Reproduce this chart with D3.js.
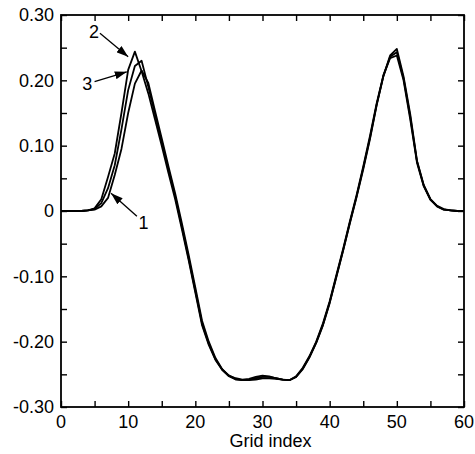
<!DOCTYPE html>
<html lang="en">
  <head>
    <meta charset="UTF-8" />
    <script src="https://d3js.org/d3.v7.min.js"></script>
    <title>Grid index profiles</title>
    <style>
      body { margin: 0; background: #fff; }
      svg text { font-family: "Liberation Sans", Arial, sans-serif; fill: #000; }
      .curve { fill: none; stroke: #000; stroke-width: 1.8; stroke-linejoin: round; }
    </style>
  </head>
  <body>
    <svg width="475" height="454"></svg>
    <script>
      // values, one per grid index 0..60
      const gridIndex = d3.range(0, 61);
      const curve1 = [0, 0, 0, 0, 0.001, 0.002, 0.007, 0.02, 0.055, 0.095, 0.15, 0.195, 0.215, 0.196, 0.153, 0.111, 0.068, 0.027,
        -0.019, -0.067, -0.117, -0.168, -0.2, -0.225, -0.242, -0.252, -0.257, -0.259, -0.259, -0.258, -0.256, -0.256, -0.257,
        -0.258, -0.259, -0.254, -0.242, -0.224, -0.202, -0.175, -0.141, -0.101, -0.061, -0.019, 0.021, 0.064, 0.11, 0.162,
        0.207, 0.238, 0.248, 0.206, 0.148, 0.077, 0.04, 0.018, 0.008, 0.003, 0.001, 0, 0];
      const curve2 = [0, 0, 0, 0, 0.001, 0.004, 0.018, 0.052, 0.088, 0.15, 0.216, 0.244, 0.214, 0.18, 0.14, 0.1, 0.058, 0.018,
        -0.028, -0.075, -0.125, -0.175, -0.205, -0.228, -0.243, -0.252, -0.256, -0.258, -0.257, -0.254, -0.252, -0.253, -0.256,
        -0.258, -0.259, -0.253, -0.24, -0.222, -0.2, -0.172, -0.138, -0.098, -0.058, -0.016, 0.024, 0.068, 0.115, 0.165,
        0.208, 0.234, 0.238, 0.2, 0.14, 0.074, 0.038, 0.017, 0.007, 0.002, 0.001, 0, 0];
      const curve3 = [0, 0, 0, 0, 0.001, 0.003, 0.012, 0.035, 0.07, 0.125, 0.185, 0.222, 0.23, 0.19, 0.148, 0.106, 0.063, 0.022,
        -0.024, -0.072, -0.122, -0.172, -0.203, -0.227, -0.243, -0.253, -0.258, -0.259, -0.258, -0.256, -0.254, -0.254, -0.256,
        -0.258, -0.259, -0.254, -0.241, -0.223, -0.201, -0.174, -0.14, -0.1, -0.06, -0.018, 0.022, 0.066, 0.112, 0.163,
        0.206, 0.236, 0.243, 0.203, 0.144, 0.076, 0.039, 0.018, 0.007, 0.002, 0.001, 0, 0];
      const seriesList = [curve1, curve2, curve3];

      const xTicks = [0, 10, 20, 30, 40, 50, 60];
      const yTicks = [0.3, 0.2, 0.1, 0, -0.1, -0.2, -0.3];
      const yTickLabels = ["0.30", "0.20", "0.10", "0", "-0.10", "-0.20", "-0.30"];

      // curve labels: label point, arrow start, arrow tip (data units)
      const notes = [
        { text: "2", at: [4.9, 0.274], from: [5.8, 0.272], to: [10.0, 0.236] },
        { text: "3", at: [3.9, 0.195], from: [5.0, 0.198], to: [9.8, 0.213] },
        { text: "1", at: [12.3, -0.017], from: [11.3, -0.008], to: [7.45, 0.027] },
      ];

      const width = 475, height = 454;
      const margin = { top: 15, right: 11, bottom: 47, left: 61 };

      const x = d3.scaleLinear().domain([0, 60]).range([margin.left, width - margin.right]);
      const y = d3.scaleLinear().domain([-0.3, 0.3]).range([height - margin.bottom, margin.top]);

      const svg = d3.select("svg");

      svg.append("defs").append("marker")
        .attr("id", "head")
        .attr("markerUnits", "userSpaceOnUse")
        .attr("viewBox", "0 0 12 8")
        .attr("refX", 12).attr("refY", 4)
        .attr("markerWidth", 12).attr("markerHeight", 8)
        .attr("orient", "auto")
        .append("path").attr("d", "M0,0 L12,4 L0,8 Z").attr("fill", "#000");

      // inward ticks on all four sides
      const minorX = d3.range(0, 61, 5);
      const minorY = d3.range(-0.3, 0.3001, 0.05);
      const tickLen = 6;

      const axisB = d3.axisTop(x).tickValues(minorX).tickSize(tickLen).tickFormat("");
      const axisT = d3.axisBottom(x).tickValues(minorX).tickSize(tickLen).tickFormat("");
      const axisL = d3.axisRight(y).tickValues(minorY).tickSize(tickLen).tickFormat("");
      const axisR = d3.axisLeft(y).tickValues(minorY).tickSize(tickLen).tickFormat("");

      const gB = svg.append("g").attr("transform", `translate(0,${height - margin.bottom})`).call(axisB);
      const gT = svg.append("g").attr("transform", `translate(0,${margin.top})`).call(axisT);
      const gL = svg.append("g").attr("transform", `translate(${margin.left},0)`).call(axisL);
      const gR = svg.append("g").attr("transform", `translate(${width - margin.right},0)`).call(axisR);
      [gB, gT, gL, gR].forEach(g => {
        g.select(".domain").remove();
        g.selectAll("line").attr("stroke", "#000").attr("stroke-width", 1.4);
      });

      svg.append("rect")
        .attr("x", margin.left).attr("y", margin.top)
        .attr("width", width - margin.left - margin.right)
        .attr("height", height - margin.top - margin.bottom)
        .attr("fill", "none").attr("stroke", "#000").attr("stroke-width", 1.8);

      // tick labels
      svg.append("g").selectAll("text").data(xTicks).join("text")
        .attr("x", d => x(d)).attr("y", height - margin.bottom + 21)
        .attr("text-anchor", "middle").attr("font-size", 18)
        .text(d => d);

      svg.append("g").selectAll("text").data(yTicks).join("text")
        .attr("x", margin.left - 7).attr("y", d => y(d)).attr("dy", "0.36em")
        .attr("text-anchor", "end").attr("font-size", 18)
        .text((d, i) => yTickLabels[i]);

      svg.append("text")
        .attr("x", (margin.left + width - margin.right) / 2 + 8).attr("y", height - 7)
        .attr("text-anchor", "middle").attr("font-size", 18)
        .text("Grid index");

      // curves
      const line = d3.line().x((d, i) => x(gridIndex[i])).y(d => y(d));
      svg.append("g").selectAll("path").data(seriesList).join("path")
        .attr("class", "curve").attr("d", line);

      // curve labels with arrows
      const g = svg.append("g");
      g.selectAll("line").data(notes).join("line")
        .attr("x1", d => x(d.from[0])).attr("y1", d => y(d.from[1]))
        .attr("x2", d => x(d.to[0])).attr("y2", d => y(d.to[1]))
        .attr("stroke", "#000").attr("stroke-width", 1.3)
        .attr("marker-end", "url(#head)");
      g.selectAll("text").data(notes).join("text")
        .attr("x", d => x(d.at[0])).attr("y", d => y(d.at[1])).attr("dy", "0.36em")
        .attr("text-anchor", "middle").attr("font-size", 18)
        .text(d => d.text);
    </script>
  </body>
</html>
